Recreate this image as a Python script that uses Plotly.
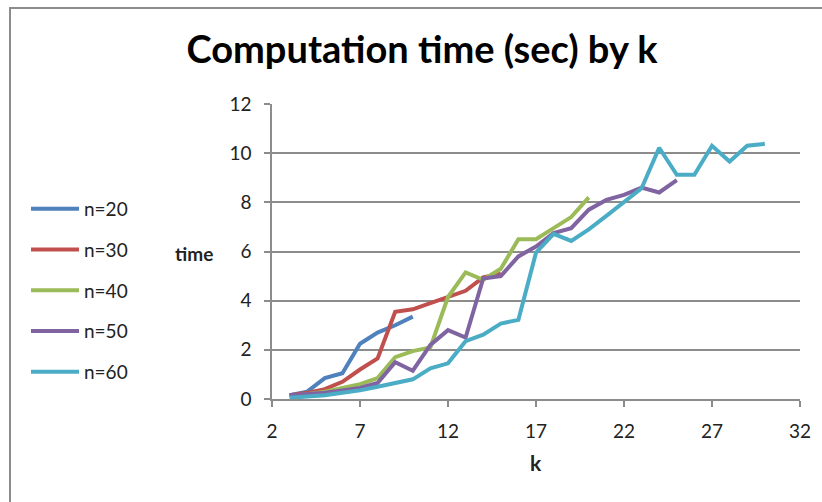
import plotly.graph_objects as go

# Computation time (sec) for each problem size n, by k (k runs from 3 to n/2)
k_n20 = list(range(3, 11))
t_n20 = [0.15, 0.3, 0.85, 1.05, 2.25, 2.7, 3.0, 3.35]

k_n30 = list(range(3, 16))
t_n30 = [0.15, 0.25, 0.4, 0.7, 1.2, 1.65, 3.55, 3.65, 3.9, 4.15, 4.4, 4.95, 5.1]

k_n40 = list(range(3, 21))
t_n40 = [0.1, 0.2, 0.3, 0.45, 0.6, 0.85, 1.7, 1.95, 2.1, 4.15, 5.15,
         4.85, 5.3, 6.5, 6.5, 6.95, 7.4, 8.2]

k_n50 = list(range(3, 26))
t_n50 = [0.15, 0.2, 0.25, 0.35, 0.45, 0.65, 1.5, 1.15, 2.2, 2.8, 2.5,
         4.9, 5.0, 5.8, 6.2, 6.75, 6.95, 7.7, 8.1, 8.3, 8.6, 8.4, 8.9]

k_n60 = list(range(3, 31))
t_n60 = [0.05, 0.1, 0.15, 0.25, 0.35, 0.5, 0.65, 0.8, 1.25, 1.45, 2.35,
         2.62, 3.07, 3.22, 5.95, 6.72, 6.43, 6.9, 7.45, 8.0, 8.57, 10.22,
         9.12, 9.12, 10.3, 9.66, 10.3, 10.38]

series_names = ["n=20", "n=30", "n=40", "n=50", "n=60"]
series_k = [k_n20, k_n30, k_n40, k_n50, k_n60]
series_t = [t_n20, t_n30, t_n40, t_n50, t_n60]
series_colors = ["#4F81BD", "#C0504D", "#9BBB59", "#8064A2", "#4BACC6"]

x_ticks = [2, 7, 12, 17, 22, 27, 32]
y_ticks = [0, 2, 4, 6, 8, 10, 12]

FONT = "Lato, 'Open Sans', sans-serif"

# Plot area in pixels
W, H = 822, 502
L, R, T, B = 272, 22, 104, 103
PW, PH = W - L - R, H - T - B


def px_x(x):
    return (x - L) / PW


def px_y(y):
    return (H - B - y) / PH


fig = go.Figure()
for i, (name, ks, ts, col) in enumerate(zip(series_names, series_k, series_t, series_colors)):
    fig.add_trace(go.Scatter(
        x=ks, y=ts, mode="lines", name=name, legendgroup=f"g{i}",
        line=dict(color=col, width=4),
    ))

axis_style = dict(
    zeroline=False,
    ticks="outside", ticklen=6, tickwidth=1.5, tickcolor="#8c8c8c",
    showline=True, linecolor="#8c8c8c", linewidth=1.5,
    tickfont=dict(family=FONT, size=19, color="#222222"),
)

fig.update_layout(
    width=W, height=H,
    margin=dict(l=L, r=R, t=T, b=B, autoexpand=False),
    paper_bgcolor="white", plot_bgcolor="white",
    font=dict(family=FONT, size=19, color="#222222"),
    title=dict(
        text="<b>Computation time (sec) by k</b>",
        font=dict(family=FONT, size=38, color="#000000"),
        x=422 / W, xanchor="center", y=1 - 50 / H, yanchor="middle",
    ),
    showlegend=True,
    legend=dict(
        x=px_x(26), xanchor="left",
        y=px_y(290.5), yanchor="middle",
        font=dict(family=FONT, size=19, color="#222222"),
        tracegroupgap=13, itemwidth=48,
        bgcolor="rgba(0,0,0,0)",
    ),
    xaxis=dict(
        range=[2, 32], tickvals=x_ticks, ticktext=[str(v) for v in x_ticks],
        showgrid=False, ticklabelstandoff=8, **axis_style,
    ),
    yaxis=dict(
        range=[0, 12], tickvals=y_ticks, ticktext=[str(v) for v in y_ticks],
        showgrid=True, gridcolor="#8c8c8c", gridwidth=1.5,
        ticklabelstandoff=9, **axis_style,
    ),
)

# Axis titles
fig.add_annotation(
    text="<b>time</b>", xref="paper", yref="paper",
    x=px_x(194), y=px_y(253),
    xanchor="center", yanchor="middle", showarrow=False,
    font=dict(family=FONT, size=19, color="#222222"),
)
fig.add_annotation(
    text="<b>k</b>", xref="paper", yref="paper",
    x=px_x(536), y=px_y(462),
    xanchor="center", yanchor="middle", showarrow=False,
    font=dict(family=FONT, size=21, color="#222222"),
)

# Outer chart frame (top and left edges visible)
fig.add_shape(
    type="rect", xref="paper", yref="paper",
    x0=px_x(10), x1=px_x(840), y0=px_y(520), y1=px_y(8),
    line=dict(color="#8c8c8c", width=2), layer="below",
)

fig.write_html("out.html")
